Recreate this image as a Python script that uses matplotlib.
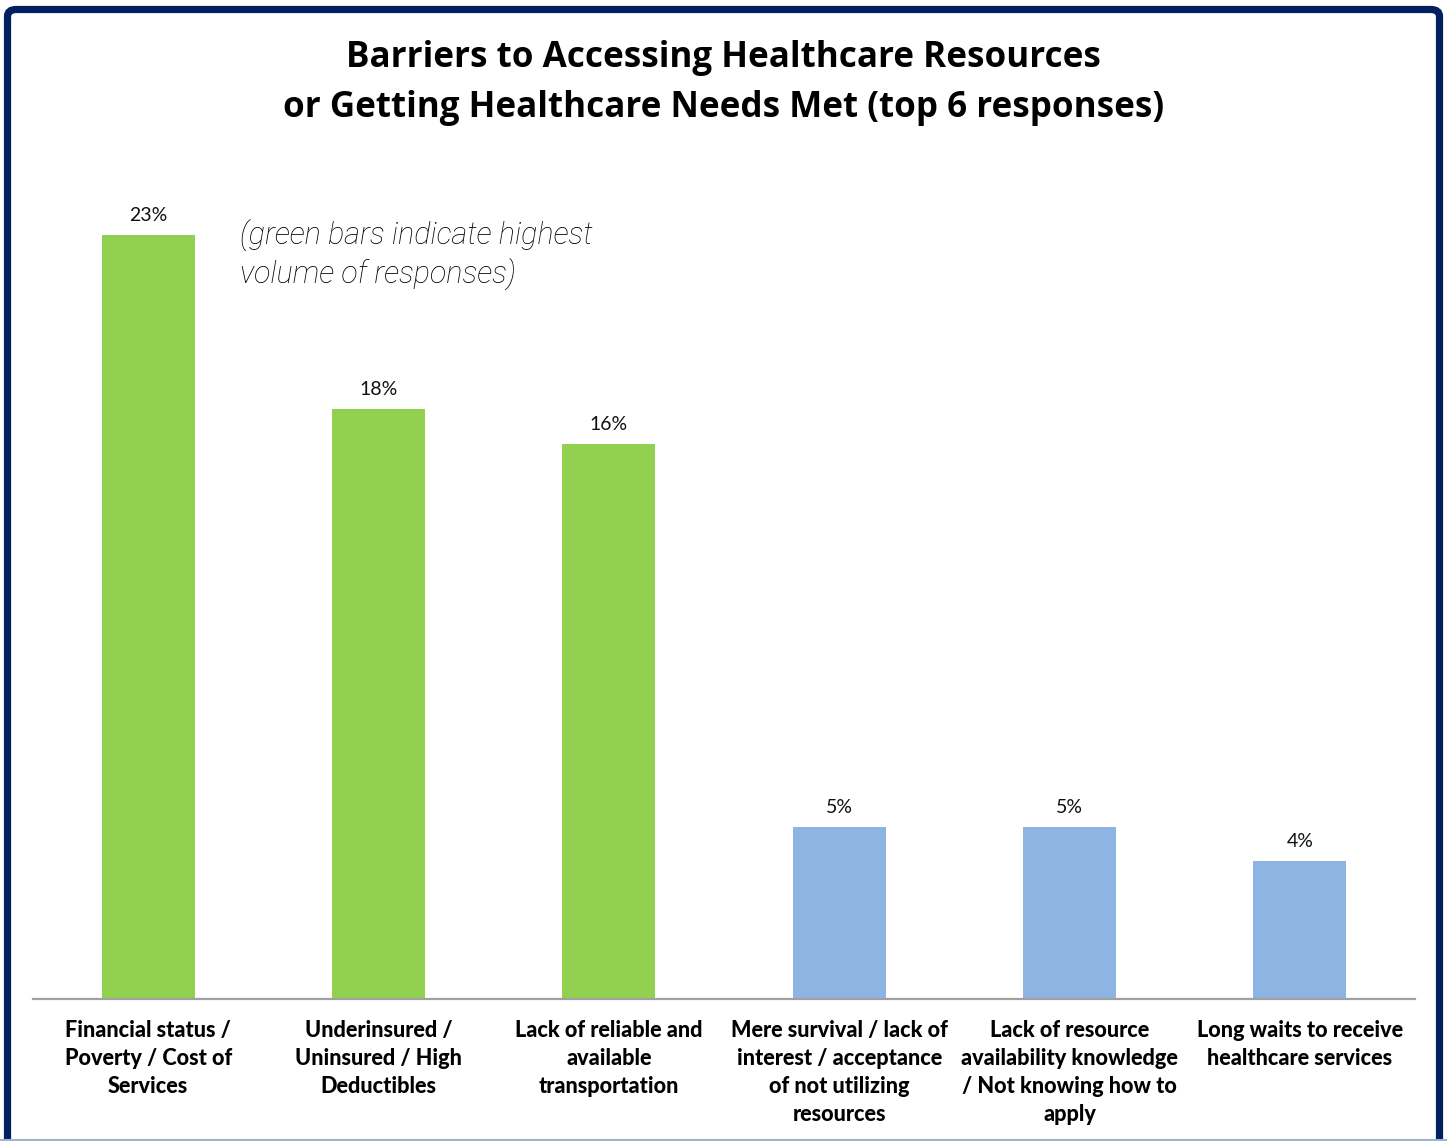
import matplotlib.pyplot as plt
from matplotlib.patches import FancyBboxPatch
from matplotlib.lines import Line2D

categories = [
    "Financial status /\nPoverty / Cost of\nServices",
    "Underinsured /\nUninsured / High\nDeductibles",
    "Lack of reliable and\navailable\ntransportation",
    "Mere survival / lack of\ninterest / acceptance\nof not utilizing\nresources",
    "Lack of resource\navailability knowledge\n/ Not knowing how to\napply",
    "Long waits to receive\nhealthcare services",
]
shares = [22.7, 17.51, 16.49, 5.1, 5.1, 4.1]
bar_colors = ["#92D050", "#92D050", "#92D050", "#8EB4E3", "#8EB4E3", "#8EB4E3"]

W, H = 1447, 1141
fig = plt.figure(figsize=(W / 100, H / 100), dpi=100)

# navy frame around the whole chart, running off the bottom edge
frame = FancyBboxPatch((7.5 / W, -0.05), (1439.5 - 7.5) / W, 1.05 - 9.5 / H,
                       boxstyle="round,pad=0,rounding_size=0.006",
                       transform=fig.transFigure, facecolor="none",
                       edgecolor="#002060", linewidth=5.2, zorder=5)
fig.patches.append(frame)
fig.lines.append(Line2D([0, 1], [1.5 / H, 1.5 / H], transform=fig.transFigure,
                        color="#9DB3CF", linewidth=1.5, zorder=6))

ax = fig.add_axes([33 / W, (H - 999) / H, 1382 / W, 808 / H])
ax.patch.set_alpha(0)
x = range(len(categories))
bars = ax.bar(x, shares, width=0.404, color=bar_colors, zorder=2)

for b, v in zip(bars, shares):
    ax.text(b.get_x() + b.get_width() / 2, v + 0.33, f"{v:.0f}%",
            ha="center", va="bottom", fontsize=14, family="Lato", color="#111111")

ax.set_xlim(-0.5, 5.5)
ax.set_ylim(0, 24)
ax.set_yticks([])
for s in ["top", "right", "left"]:
    ax.spines[s].set_visible(False)
ax.spines["bottom"].set_color("#A0A0A0")
ax.spines["bottom"].set_linewidth(1.6)
ax.set_xticks(list(x))
ax.set_xticklabels(categories, fontsize=15.6, family="Lato", fontweight="black",
                   linespacing=1.41, va="top")
ax.tick_params(axis="x", length=0, pad=15)

fig.text(0.5, 1 - 83 / H,
         "Barriers to Accessing Healthcare Resources\nor Getting Healthcare Needs Met (top 6 responses)",
         ha="center", va="center", fontsize=25.2, family="Open Sans", fontweight="bold",
         linespacing=1.5)

ax.text(0.40, 22.12, "(green bars indicate highest\nvolume of responses)",
        ha="left", va="center", fontsize=22, style="italic", fontweight="light",
        family=["Roboto", "DejaVu Sans"], color="#000000",
        linespacing=1.3)

fig.savefig("out.png", dpi=100)
